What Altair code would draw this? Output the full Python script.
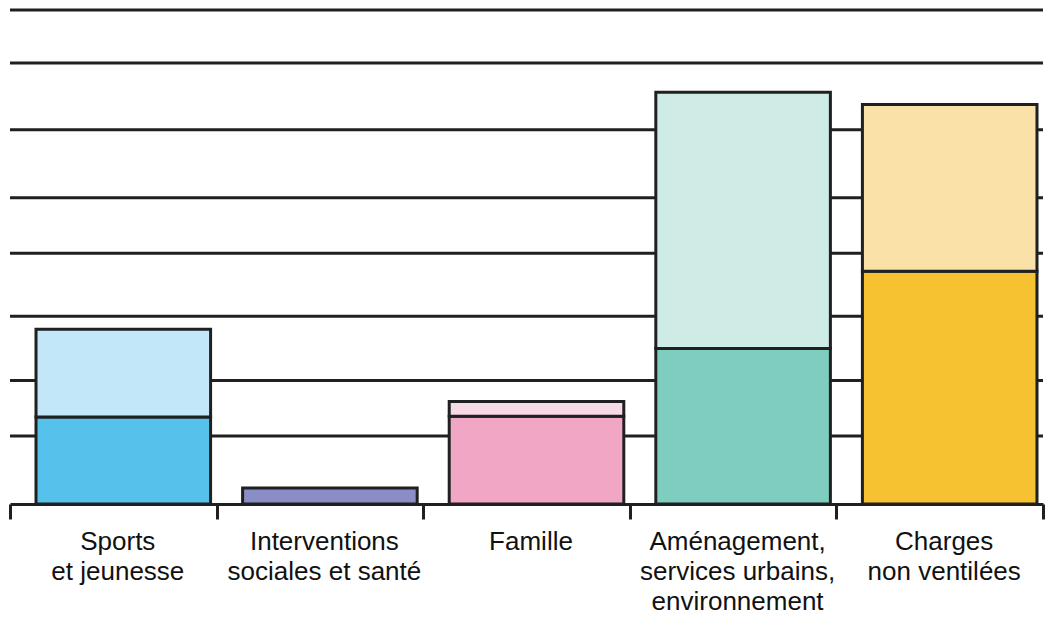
import altair as alt
import pandas as pd

# ---- data ----
categories = [
    "Sports\net jeunesse",
    "Interventions\nsociales et santé",
    "Famille",
    "Aménagement,\nservices urbains,\nenvironnement",
    "Charges\nnon ventilées",
]
lower_values = [1.41, 0.26, 1.42, 2.52, 3.77]
upper_values = [1.42, 0.00, 0.24, 4.15, 2.70]
grid_values = [1.10, 2.00, 3.04, 4.06, 4.96, 6.06, 7.14, 8.0]

# ---- styles ----
lower_colors = ["#56c1ea", "#8b8ec6", "#f2a6c6", "#7ecdc0", "#f6c232"]
upper_colors = ["#c2e7f9", "#8b8ec6", "#f8d9e6", "#cfebe6", "#f9e1a8"]
INK = "#202020"
FONT = "Liberation Sans"

rows = []
keys, colors = [], []
for i, cat in enumerate(categories):
    for seg, vals, cols, order in (("bas", lower_values, lower_colors, 1),
                                   ("haut", upper_values, upper_colors, 2)):
        key = f"{i}-{seg}"
        keys.append(key)
        colors.append(cols[i])
        if vals[i] > 0:
            rows.append({"categorie": cat, "segment": seg, "valeur": vals[i],
                         "ordre": order, "cle": key})
bars_df = pd.DataFrame(rows)
grid_df = pd.DataFrame({"valeur": grid_values})

y_scale = alt.Scale(domain=[0, 8], nice=False, zero=True)

grid = alt.Chart(grid_df).mark_rule(color=INK, strokeWidth=3).encode(
    y=alt.Y("valeur:Q", scale=y_scale, axis=None)
)

bars = alt.Chart(bars_df).mark_bar(
    stroke=INK, strokeWidth=3, xOffset=10, width=alt.RelativeBandSize(0.845)
).encode(
    x=alt.X(
        "categorie:N",
        sort=categories,
        scale=alt.Scale(paddingInner=0, paddingOuter=0),
        axis=alt.Axis(
            title=None,
            labelAngle=0,
            labelFont=FONT,
            labelFontSize=26,
            labelLineHeight=30,
            labelColor="#111111",
            labelPadding=9,
            labelOffset=4,
            labelLimit=0,
            labelOverlap=False,
            labelExpr="split(datum.label, '\\n')",
            domainColor=INK,
            domainWidth=3,
            tickColor=INK,
            tickWidth=3,
            tickSize=15,
            tickBand="extent",
        ),
    ),
    y=alt.Y(
        "valeur:Q",
        stack="zero",
        scale=y_scale,
        axis=alt.Axis(title=None, labels=False, ticks=False, grid=False,
                      domainColor=INK, domainWidth=3),
    ),
    color=alt.Color("cle:N", scale=alt.Scale(domain=keys, range=colors), legend=None),
    order=alt.Order("ordre:Q"),
)

chart = alt.layer(grid, bars).properties(
    width=1037,
    height=606,
    padding=0,
    background="white",
    autosize=alt.AutoSizeParams(type="fit", contains="padding"),
).configure_view(stroke=None)

chart.save("out.html", embed_options={"renderer": "svg", "actions": False})
